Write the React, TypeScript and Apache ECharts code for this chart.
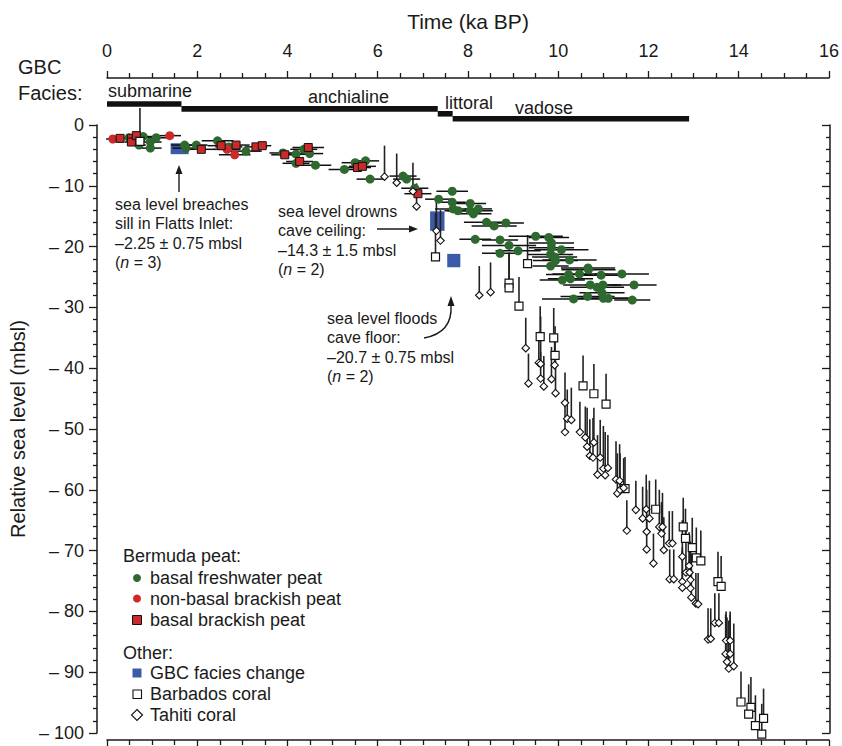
import React, { useEffect, useRef } from "react";
import * as echarts from "echarts";

const FONT = "'Liberation Sans', Arial, Helvetica, sans-serif";
const INK = "#1a1a1a";
const GREEN = "#2e6a30";
const RED = "#cc2a2a";
const BLUE = "#3b5ba8";

// Bermuda peat: [age (ka BP), relative sea level (m), age half-error (ka)]
const freshwaterPeat: number[][] = [
  [0.49, -2.1, 0.1], [0.8, -1.9, 0.25], [0.71, -3.3, 0.15], [0.96, -2.8, 0.25], [0.96, -3.8, 0.25],
  [1.09, -2.1, 0.25], [1.72, -3.3, 0.3], [1.75, -3.8, 0.3], [1.98, -3.3, 0.25], [2.45, -2.6, 0.35],
  [2.7, -3.6, 0.3], [3.08, -4.3, 0.35], [3.9, -4.6, 0.3], [4.19, -4.8, 0.3], [4.36, -4.0, 0.3],
  [4.49, -4.7, 0.3], [4.19, -6.3, 0.3], [4.62, -6.6, 0.35], [5.26, -7.3, 0.35], [5.5, -6.2, 0.3],
  [5.73, -5.9, 0.3], [5.83, -8.9, 0.3], [6.56, -8.4, 0.3], [6.64, -8.9, 0.3], [6.82, -10.4, 0.3],
  [7.65, -10.9, 0.35], [7.35, -12.2, 0.3], [7.65, -12.7, 0.3], [8.05, -12.9, 0.35], [7.67, -13.8, 0.4],
  [7.78, -14.1, 0.3], [8.05, -14.1, 0.5], [8.12, -14.6, 0.4], [8.23, -13.8, 0.3], [8.41, -16.0, 0.5],
  [8.58, -16.6, 0.5], [8.84, -16.1, 0.4], [8.16, -18.8, 0.35], [8.71, -18.9, 0.4], [8.91, -19.8, 0.6],
  [9.11, -20.7, 0.5], [8.71, -21.1, 0.4], [9.5, -18.3, 0.6], [9.79, -18.5, 0.45], [9.85, -19.4, 0.5],
  [9.85, -20.2, 0.5], [10.07, -20.5, 0.6], [9.83, -21.3, 0.5], [9.92, -21.7, 0.5], [9.94, -22.3, 0.5],
  [10.25, -22.2, 0.6], [9.83, -23.2, 0.4], [10.66, -23.5, 0.6], [10.67, -23.8, 0.6], [10.47, -24.5, 0.6],
  [10.23, -24.6, 0.5], [10.27, -25.3, 0.5], [10.09, -25.5, 0.5], [10.95, -24.7, 0.5], [11.41, -24.5, 0.6],
  [10.71, -26.3, 0.6], [10.86, -26.7, 0.6], [10.99, -26.3, 0.4], [11.68, -26.3, 0.5], [10.34, -28.6, 0.7],
  [10.65, -28.2, 0.6], [10.97, -27.6, 0.5], [11.0, -28.5, 0.6], [11.11, -28.5, 0.6], [11.64, -28.8, 0.4],
];
const nonBasalBrackishPeat: number[][] = [
  [0.13, -2.3, 0.15], [1.39, -1.75, 0.25], [2.66, -4.0, 0.3], [2.83, -4.9, 0.35],
];
const basalBrackishPeat: number[][] = [
  [0.29, -2.2, 0.1], [0.54, -2.2, 0.15], [0.54, -2.8, 0.15], [0.65, -1.75, 0.15], [2.09, -4.0, 0.3],
  [2.53, -3.4, 0.3], [2.86, -3.3, 0.3], [3.3, -3.6, 0.25], [3.44, -3.4, 0.2], [3.94, -4.9, 0.3],
  [4.46, -3.7, 0.35], [4.27, -6.0, 0.3], [5.55, -7.0, 0.3], [5.66, -6.8, 0.3], [6.89, -11.3, 0.3],
];
// GBC facies change boxes: [age start, age end, upper level, lower level]
const gbcFaciesChange: number[][] = [
  [1.41, 1.81, -3.0, -4.8],
  [7.16, 7.48, -14.2, -17.4],
  [7.54, 7.83, -21.2, -23.4],
];
// corals: [age (ka BP), sample elevation (m), upper limit of sea level (m)]
const barbadosCoral: number[][] = [
  [0.73, -2.7, 2.8], [7.28, -21.7, -14.5], [9.32, -22.8, -18.1], [8.91, -26.0, -21.0], [8.91, -26.8, -21.0],
  [9.13, -29.8, -25.0], [9.6, -34.8, -29.8], [9.9, -35.0, -30.1], [9.93, -37.9, -33.1], [10.55, -42.9, -37.9],
  [10.79, -44.2, -39.3], [11.06, -45.9, -40.9], [11.48, -59.8, -54.6], [12.16, -63.2, -58.3], [12.77, -66.1, -61.3],
  [12.82, -68.0, -63.1], [12.97, -69.5, -64.6], [13.06, -71.2, -66.2], [13.16, -71.7, -66.7], [13.54, -75.1, -70.2],
  [13.61, -75.9, -70.9], [14.05, -94.9, -89.9], [14.27, -95.8, -90.8], [14.22, -96.9, -92.0], [14.37, -98.8, -93.8],
  [14.51, -100.2, -95.2], [14.55, -97.6, -92.7],
];
const tahitiCoral: number[][] = [
  [6.15, -8.5, -3.4], [6.42, -9.5, -4.7], [6.78, -10.9, -6.2], [6.86, -13.4, -9.6], [7.3, -17.4, -12.3],
  [7.39, -19.0, -14.0], [8.25, -28.0, -23.2], [8.5, -27.5, -22.6], [9.28, -36.7, -31.7], [9.57, -39.1, -34.0],
  [9.61, -39.3, -31.5], [9.34, -42.5, -37.6], [9.61, -41.7, -37.3], [9.68, -43.0, -38.0], [9.85, -41.8, -36.5],
  [9.94, -44.1, -38.7], [9.92, -39.5, -34.5], [10.15, -45.7, -40.7], [10.15, -50.5, -45.5], [10.2, -48.3, -43.5],
  [10.29, -48.5, -43.2], [10.48, -50.5, -45.5], [10.6, -51.4, -46.3], [10.64, -52.9, -46.5], [10.79, -52.2, -46.5],
  [10.7, -54.4, -48.4], [10.77, -54.7, -48.2], [10.93, -54.7, -48.5], [10.87, -57.5, -51.0], [11.0, -56.5, -49.5],
  [11.04, -57.6, -50.5], [11.1, -56.4, -51.0], [11.28, -58.3, -52.0], [11.36, -58.5, -52.5], [11.31, -60.6, -54.0],
  [11.37, -60.0, -54.0], [11.45, -59.7, -54.8], [11.52, -66.7, -61.7], [11.72, -63.3, -58.5], [11.87, -64.7, -59.5],
  [11.95, -63.2, -57.5], [11.96, -66.9, -60.0], [11.96, -69.8, -64.0], [12.02, -64.7, -58.5], [12.11, -72.1, -67.2],
  [12.24, -66.1, -60.0], [12.31, -66.1, -60.5], [12.29, -67.2, -62.0], [12.34, -69.9, -64.5], [12.46, -68.8, -63.5],
  [12.53, -68.8, -63.5], [12.47, -74.7, -69.8], [12.56, -74.7, -69.8], [12.75, -71.0, -65.0], [12.83, -73.6, -66.0],
  [12.75, -75.1, -69.5], [12.75, -76.1, -70.0], [12.9, -72.5, -67.0], [12.91, -73.6, -67.5], [12.93, -74.8, -68.5],
  [12.93, -76.2, -70.0], [12.95, -77.7, -70.5], [13.05, -78.7, -73.7], [13.1, -78.8, -73.7], [13.32, -84.6, -79.5],
  [13.38, -84.5, -79.5], [13.47, -81.9, -77.0], [13.56, -81.9, -77.0], [13.72, -84.8, -80.0], [13.81, -84.8, -80.0],
  [13.71, -87.0, -80.5], [13.74, -88.3, -81.0], [13.78, -89.4, -81.5], [13.81, -87.0, -80.5], [13.89, -89.0, -82.0],
];
// GBC facies intervals (ka BP)
const faciesNames = ["submarine", "anchialine", "littoral", "vadose"];
const faciesStart = [0, 1.65, 7.33, 7.66];
const faciesEnd = [1.65, 7.33, 7.66, 12.9];

const timeAxis = { min: 0, max: 16, interval: 2 };
const levelAxis = { min: -100, max: 0, interval: 10 };

const legendItems = {
  peatTitle: "Bermuda peat:",
  peat: ["basal freshwater peat", "non-basal brackish peat", "basal brackish peat"],
  otherTitle: "Other:",
  other: ["GBC facies change", "Barbados coral", "Tahiti coral"],
};

function txt(x: number, y: number, text: string, size: number, extra: any = {}) {
  return {
    type: "text", x, y, silent: true,
    style: { text, fontSize: size, fontFamily: FONT, fill: INK, verticalAlign: "middle", align: "left", ...extra },
  };
}

function annotation(x: number, y: number, lines: string[], n: number) {
  const rich = {
    i: { fontStyle: "italic", fontSize: 16, fontFamily: FONT, fill: INK, lineHeight: 19.2 },
  };
  return {
    type: "text", x, y, silent: true,
    style: {
      text: lines.join("\n") + "\n({i|n} = " + n + ")",
      fontSize: 16, fontFamily: FONT, fill: INK, lineHeight: 19.2, verticalAlign: "top", rich,
    },
  };
}

export default function App() {
  const ref = useRef<HTMLDivElement>(null);
  useEffect(() => {
    if (!ref.current) return;
    const chart = echarts.init(ref.current, undefined, { renderer: "svg" });
    const axisLine = { show: true, onZero: false, lineStyle: { color: INK, width: 1.5 } };
    const tickStyle = { color: INK, width: 1.3 };
    const yFormatter = (v: number) => (v === 0 ? "0" : "\u2013 " + Math.abs(v));
    const peatAll = [...freshwaterPeat, ...nonBasalBrackishPeat, ...basalBrackishPeat];
    const coralAll = [...barbadosCoral, ...tahitiCoral];

    const option: any = {
      animation: false,
      backgroundColor: "#fff",
      textStyle: { fontFamily: FONT },
      grid: { left: 107, right: 9, top: 125, bottom: 13, containLabel: false },
      xAxis: [
        {
          type: "value", position: "top", offset: 47, ...timeAxis,
          name: "Time (ka BP)", nameLocation: "middle", nameGap: 46,
          nameTextStyle: { fontSize: 21, color: INK, fontFamily: FONT },
          axisLine, axisTick: { show: true, length: 7, lineStyle: tickStyle },
          minorTick: { show: true, splitNumber: 4, length: 5, lineStyle: tickStyle },
          axisLabel: { fontSize: 18, color: INK, margin: 18, fontFamily: FONT },
          splitLine: { show: false },
        },
        {
          type: "value", position: "bottom", offset: 7, ...timeAxis,
          axisLine, axisTick: { show: true, length: 7, lineStyle: tickStyle },
          minorTick: { show: true, splitNumber: 4, length: 5, lineStyle: tickStyle },
          axisLabel: { show: false }, splitLine: { show: false },
        },
      ],
      yAxis: [
        {
          type: "value", position: "left", offset: 10, ...levelAxis,
          name: "Relative sea level (mbsl)", nameLocation: "middle", nameGap: 55, nameRotate: 90,
          nameTextStyle: { fontSize: 20, color: INK, fontFamily: FONT },
          axisLine, axisTick: { show: true, length: 8, lineStyle: tickStyle },
          minorTick: { show: true, splitNumber: 5, length: 4, lineStyle: tickStyle },
          axisLabel: { fontSize: 18, color: INK, margin: 13, fontFamily: FONT, formatter: yFormatter },
          splitLine: { show: false },
        },
        {
          type: "value", position: "right", offset: 1, ...levelAxis,
          axisLine, axisTick: { show: true, inside: true, length: 8, lineStyle: tickStyle },
          minorTick: { show: true, splitNumber: 5, length: 4, lineStyle: tickStyle },
          axisLabel: { show: false }, splitLine: { show: false },
        },
      ],
      series: [
        {
          type: "custom", name: "GBC facies", clip: false, z: 2, silent: true,
          data: faciesStart.map((s, i) => [s, faciesEnd[i], i]),
          renderItem: (_p: any, api: any) => {
            const a = api.coord([api.value(0), 0]);
            const b = api.coord([api.value(1), 0]);
            const yc = a[1] - 21 + api.value(2) * 4.9;
            return { type: "rect", shape: { x: a[0], y: yc - 2.8, width: b[0] - a[0], height: 5.6 }, style: { fill: "#111" } };
          },
        },
        {
          type: "custom", name: "GBC facies change", clip: false, z: 3, silent: true,
          data: gbcFaciesChange,
          renderItem: (_p: any, api: any) => {
            const a = api.coord([api.value(0), api.value(2)]);
            const b = api.coord([api.value(1), api.value(3)]);
            return { type: "rect", shape: { x: a[0], y: a[1], width: b[0] - a[0], height: b[1] - a[1] }, style: { fill: BLUE } };
          },
        },
        {
          type: "custom", name: "coral limits", clip: false, z: 4, silent: true,
          data: coralAll,
          renderItem: (_p: any, api: any) => {
            const a = api.coord([api.value(0), api.value(1)]);
            const b = api.coord([api.value(0), api.value(2)]);
            return { type: "line", shape: { x1: a[0], y1: a[1], x2: b[0], y2: b[1] }, style: { stroke: "#222", lineWidth: 1.6 } };
          },
        },
        {
          type: "custom", name: "peat age errors", clip: false, z: 4, silent: true,
          data: peatAll,
          renderItem: (_p: any, api: any) => {
            const x = api.value(0), y = api.value(1), e = api.value(2);
            const a = api.coord([x - e, y]);
            const b = api.coord([x + e, y]);
            return { type: "line", shape: { x1: a[0], y1: a[1], x2: b[0], y2: b[1] }, style: { stroke: "#111", lineWidth: 1.5 } };
          },
        },
        {
          type: "scatter", name: "basal freshwater peat", clip: false, z: 6,
          data: freshwaterPeat.map((d) => [d[0], d[1]]),
          symbol: "circle", symbolSize: 9, itemStyle: { color: GREEN, opacity: 1 },
        },
        {
          type: "scatter", name: "non-basal brackish peat", clip: false, z: 6,
          data: nonBasalBrackishPeat.map((d) => [d[0], d[1]]),
          symbol: "circle", symbolSize: 9, itemStyle: { color: RED, opacity: 1 },
        },
        {
          type: "scatter", name: "basal brackish peat", clip: false, z: 7,
          data: basalBrackishPeat.map((d) => [d[0], d[1]]),
          symbol: "rect", symbolSize: 8, itemStyle: { color: RED, borderColor: "#111", borderWidth: 1, opacity: 1 },
        },
        {
          type: "scatter", name: "Barbados coral", clip: false, z: 7,
          data: barbadosCoral.map((d) => [d[0], d[1]]),
          symbol: "rect", symbolSize: 8, itemStyle: { color: "#fff", borderColor: "#111", borderWidth: 1.2, opacity: 1 },
        },
        {
          type: "scatter", name: "Tahiti coral", clip: false, z: 7,
          data: tahitiCoral.map((d) => [d[0], d[1]]),
          symbol: "diamond", symbolSize: 7.5, itemStyle: { color: "#fff", borderColor: "#111", borderWidth: 1.1, opacity: 1 },
        },
      ],
      graphic: [
        txt(18, 67, "GBC", 20),
        txt(18, 93, "Facies:", 20),
        txt(108, 91, faciesNames[0], 18),
        txt(308, 97, faciesNames[1], 18),
        txt(445, 103, faciesNames[2], 18),
        txt(515, 108, faciesNames[3], 18),
        annotation(115, 195, ["sea level breaches", "sill in Flatts Inlet:", "\u20132.25 \u00b1 0.75 mbsl"], 3),
        annotation(278, 202, ["sea level drowns", "cave ceiling:", "\u201314.3 \u00b1 1.5 mbsl"], 2),
        annotation(327, 309, ["sea level floods", "cave floor:", "\u201320.7 \u00b1 0.75 mbsl"], 2),
        { type: "line", silent: true, shape: { x1: 179, y1: 192, x2: 179, y2: 172 }, style: { stroke: INK, lineWidth: 1.4 } },
        { type: "polygon", silent: true, shape: { points: [[179, 165], [175.5, 174], [182.5, 174]] }, style: { fill: INK } },
        { type: "line", silent: true, shape: { x1: 377, y1: 229, x2: 410, y2: 229 }, style: { stroke: INK, lineWidth: 1.4 } },
        { type: "polygon", silent: true, shape: { points: [[418, 229], [409, 225.5], [409, 232.5]] }, style: { fill: INK } },
        {
          type: "bezierCurve", silent: true,
          shape: { x1: 424, y1: 338, cpx1: 446, cpy1: 334, cpx2: 452, cpy2: 320, x2: 451, y2: 305 },
          style: { stroke: INK, lineWidth: 1.4, fill: "none" },
        },
        { type: "polygon", silent: true, shape: { points: [[451, 296], [447.5, 306], [454.5, 306]] }, style: { fill: INK } },
        txt(123, 556, legendItems.peatTitle, 18),
        { type: "circle", silent: true, shape: { cx: 137, cy: 578, r: 4 }, style: { fill: GREEN } },
        txt(150, 578, legendItems.peat[0], 18),
        { type: "circle", silent: true, shape: { cx: 137, cy: 598.5, r: 4 }, style: { fill: RED } },
        txt(150, 598.5, legendItems.peat[1], 18),
        { type: "rect", silent: true, shape: { x: 132.5, y: 615.5, width: 9, height: 9 }, style: { fill: RED, stroke: "#111", lineWidth: 1 } },
        txt(150, 620, legendItems.peat[2], 18),
        txt(123, 653, legendItems.otherTitle, 18),
        { type: "rect", silent: true, shape: { x: 132.5, y: 668.5, width: 9, height: 9 }, style: { fill: BLUE } },
        txt(150, 673, legendItems.other[0], 18),
        { type: "rect", silent: true, shape: { x: 133, y: 690, width: 8.5, height: 8.5 }, style: { fill: "#fff", stroke: "#111", lineWidth: 1.1 } },
        txt(150, 694, legendItems.other[1], 18),
        { type: "polygon", silent: true, shape: { points: [[137, 709.5], [142.5, 715], [137, 720.5], [131.5, 715]] }, style: { fill: "#fff", stroke: "#111", lineWidth: 1.1 } },
        txt(150, 715, legendItems.other[2], 18),
      ],
    };
    chart.setOption(option);
    return () => chart.dispose();
  }, []);
  return <div ref={ref} style={{ position: "fixed", left: 0, top: 0, width: 842, height: 746 }} />;
}
